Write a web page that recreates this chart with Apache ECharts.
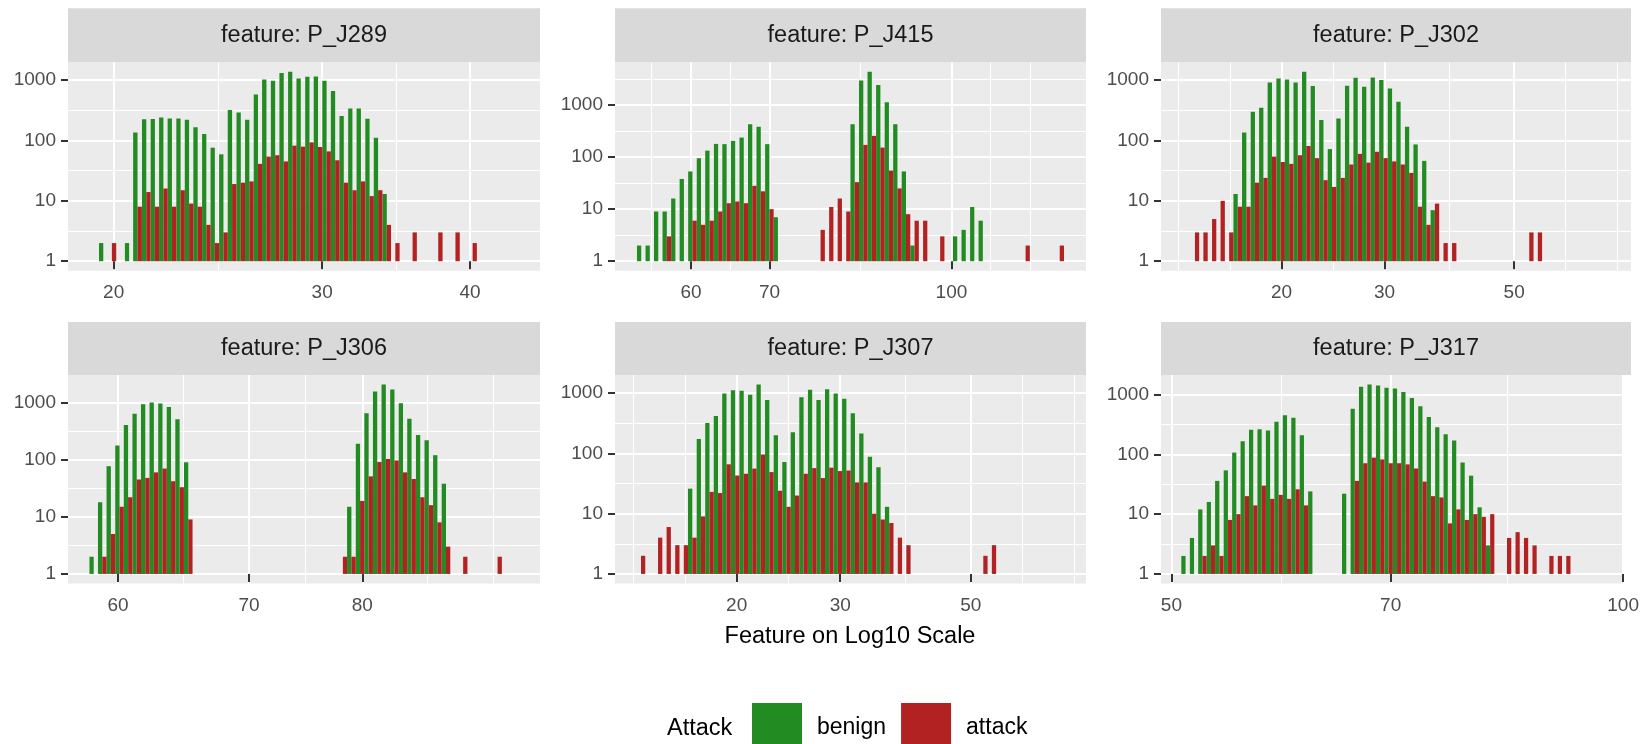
<!DOCTYPE html>
<html>
<head>
<meta charset="utf-8">
<script src="https://cdn.jsdelivr.net/npm/echarts@6/dist/echarts.min.js"></script>
<style>
html,body{margin:0;padding:0;background:#ffffff;}
#chart{width:1642px;height:744px;}
</style>
</head>
<body>
<div id="chart"></div>
<script>
// ---------------- DATA ----------------
const featureNames = ['P_J289', 'P_J415', 'P_J302', 'P_J306', 'P_J307', 'P_J317'];
const seriesNames = ['benign', 'attack'];

// bin centres (feature value) and counts per class
const binsP289 = [19.60,19.93,20.27,20.61,20.95,21.31,21.67,22.03,22.40,22.78,
                  23.16,23.55,23.95,24.35,24.76,25.18,25.61,26.04,26.48,26.92,
                  27.38,27.84,28.31,28.78,29.27,29.76,30.26,30.77,31.29,31.82,
                  32.35,32.90,33.45,34.02,34.59,35.17,35.77,36.37,36.98,37.60,
                  38.24,38.88,39.54,40.20];
const benignP289 = [2,0,0,2,136,224,226,241,232,232,
                    220,165,128,76,59,319,292,220,580,1027,
                    977,1307,1375,1067,1138,1150,977,658,254,340,
                    340,230,111,13,0,0,0,0,0,0,
                    0,0,0,0];
const attackP289 = [0,2,0,0,8,14,8,16,8,15,
                    9,8,4,2,3,19,20,21,41,54,
                    57,45,82,79,93,78,66,47,20,15,
                    21,12,15,4,2,0,3,0,0,3,
                    0,3,0,2];

const binsP415 = [54.42,55.34,56.27,57.22,58.19,59.17,60.17,61.19,62.22,63.28,
                  64.34,65.43,66.54,67.66,68.80,69.97,71.15,72.35,73.57,74.81,
                  76.08,77.36,78.67,80.00,81.35,82.72,84.12,85.54,86.99,88.46,
                  89.95,91.47,93.02,94.59,96.18,97.81,99.46,101.14,102.85,104.59,
                  106.35,108.15,109.98,111.84,113.73,115.65,117.60,119.59,121.61,123.66];
const benignP415 = [2,2,9,9,16,38,53,95,133,179,
                    177,204,237,426,384,177,7,0,0,0,
                    0,0,0,0,0,426,2964,4343,2411,1123,
                    426,53,2,0,0,0,0,3,4,11,
                    6,0,0,0,0,0,0,0,0,0];
const attackP415 = [0,0,0,3,0,0,6,5,6,9,
                    13,14,13,28,22,10,0,0,0,0,
                    0,4,11,16,9,33,171,255,152,55,
                    25,8,6,6,0,3,0,0,0,0,
                    0,0,0,0,0,2,0,0,0,2];

const binsP302 = [14.22,14.70,15.21,15.73,16.27,16.83,17.41,18.01,18.62,19.26,
                  19.93,20.61,21.32,22.05,22.81,23.59,24.40,25.24,26.11,27.00,
                  27.93,28.89,29.88,30.91,31.97,33.07,34.20,35.38,36.59,37.85,
                  39.15,40.50,41.89,43.33,44.81,46.35,47.95,49.59,51.30,53.06,
                  54.88];
const benignP302 = [0,0,0,0,0,13,135,300,349,916,
                    1067,1027,916,1375,797,218,72,232,807,1094,
                    777,1109,1000,729,439,169,86,46,7,0,
                    0,0,0,0,0,0,0,0,0,0,
                    0];
const attackP302 = [3,3,5,10,3,8,8,20,24,54,
                    44,41,57,81,51,22,17,24,40,60,
                    43,65,51,45,40,29,8,4,9,2,
                    2,0,0,0,0,0,0,0,0,3,
                    3];

const binsP306 = [58.30,58.89,59.49,60.10,60.71,61.33,61.95,62.58,63.22,63.86,
                  64.51,65.17,65.83,66.50,67.17,67.86,68.55,69.25,69.95,70.66,
                  71.38,72.11,72.84,73.58,74.33,75.09,75.85,76.62,77.40,78.19,
                  78.98,79.79,80.60,81.42,82.25,83.09,83.93,84.78,85.65,86.52,
                  87.40,88.29,89.19,90.09,91.01,91.93,92.87,93.82];
const benignP306 = [2,18,77,177,405,641,936,1000,961,840,
                    509,90,0,0,0,0,0,0,0,0,
                    0,0,0,0,0,0,0,0,0,0,
                    15,190,650,1564,2078,1698,975,523,270,220,
                    120,38,0,0,0,0,0,0];
const attackP306 = [0,2,5,15,22,45,48,60,70,42,
                    33,9,0,0,0,0,0,0,0,0,
                    0,0,0,0,0,0,0,0,0,2,
                    2,19,51,91,103,97,60,46,22,16,
                    8,3,0,2,0,0,0,2];

const binsP307 = [13.75,14.22,14.70,15.20,15.72,16.26,16.81,17.39,17.98,18.59,
                  19.22,19.88,20.56,21.26,21.98,22.73,23.51,24.31,25.13,25.99,
                  26.88,27.79,28.74,29.72,30.73,31.78,32.86,33.98,35.14,36.34,
                  37.58,38.86,40.18,41.55,42.96,44.43,45.94,47.51,49.13,50.80,
                  52.53,54.32];
const benignP307 = [0,0,0,0,0,0,26,173,320,419,
                    987,1122,1094,938,1395,774,200,72,224,858,
                    1136,774,1166,987,805,464,215,88,59,13,
                    0,0,0,0,0,0,0,0,0,0,
                    0,0];
const attackP307 = [2,0,4,6,3,3,4,9,23,22,
                    66,43,46,56,96,49,24,13,20,46,
                    57,39,58,51,52,33,33,10,8,7,
                    4,3,0,0,0,0,0,0,0,0,
                    2,3];

const binsP317 = [51.10,51.77,52.44,53.13,53.82,54.53,55.24,55.96,56.69,57.43,
                  58.18,58.94,59.71,60.49,61.28,62.08,62.90,63.72,64.55,65.39,
                  66.25,67.11,67.99,68.88,69.78,70.69,71.61,72.55,73.50,74.46,
                  75.43,76.41,77.41,78.42,79.45,80.49,81.54,82.60,83.68,84.78,
                  85.88,87.01,88.14,89.29,90.46,91.64];
const benignP317 = [2,4,12,16,36,54,107,166,257,264,
                    250,351,449,410,209,24,0,0,0,22,
                    581,1346,1475,1419,1295,1262,1109,879,636,421,
                    285,217,170,73,44,13,3,0,0,0,
                    0,0,0,0,0,0];
const attackP317 = [0,0,2,3,2,8,10,20,14,30,
                    18,21,18,26,14,0,0,0,0,0,
                    36,71,88,82,71,71,68,58,35,20,
                    19,7,12,8,10,9,10,0,4,5,
                    4,3,0,2,2,2];

// x-axis tick labels (breaks) and visible ranges per panel
const breaksP289 = [20, 30, 40];
const breaksP415 = [60, 70, 100];
const breaksP302 = [20, 30, 50];
const breaksP306 = [60, 70, 80];
const breaksP307 = [20, 30, 50];
const breaksP317 = [50, 70, 100];
const xRangeP289 = [18.30, 45.83];
const xRangeP415 = [51.69, 130.2];
const xRangeP302 = [12.44, 79.22];
const xRangeP306 = [56.56, 98.63];
const xRangeP307 = [12.42, 78.53];
const xRangeP317 = [49.21, 100.11];
const yTickLabels = [1, 10, 100, 1000, 10000];

const xTitle = 'Feature on Log10 Scale';
const legendTitle = 'Attack';

// ---------------- LAYOUT / STYLE ----------------
const COLORS = {benign: '#228B22', attack: '#B22222'};
const FONT = '"Liberation Sans", Arial, Helvetica, sans-serif';
const colLeft = [68, 615, 1161];
const colWidth = [472, 471, 470];
const rowTop = [62.3, 375];
const rowHeight = 208.4;
const stripTop = [8.3, 322];

const panels = [
  {name: featureNames[0], bins: binsP289, benign: benignP289, attack: attackP289, breaks: breaksP289, range: xRangeP289},
  {name: featureNames[1], bins: binsP415, benign: benignP415, attack: attackP415, breaks: breaksP415, range: xRangeP415},
  {name: featureNames[2], bins: binsP302, benign: benignP302, attack: attackP302, breaks: breaksP302, range: xRangeP302},
  {name: featureNames[3], bins: binsP306, benign: benignP306, attack: attackP306, breaks: breaksP306, range: xRangeP306},
  {name: featureNames[4], bins: binsP307, benign: benignP307, attack: attackP307, breaks: breaksP307, range: xRangeP307},
  {name: featureNames[5], bins: binsP317, benign: benignP317, attack: attackP317, breaks: breaksP317, range: xRangeP317}
];

const lg = Math.log10;

// ggplot2-style minor breaks (midpoints + extended breaks), in transformed space
function minorBreaks(major, lo, hi) {
  const b = major.slice();
  const bd = b[1] - b[0];
  if (lo < b[0]) b.unshift(b[0] - bd);
  if (hi > b[b.length - 1]) b.push(b[b.length - 1] + bd);
  const out = [];
  for (let i = 0; i < b.length - 1; i++) { out.push(b[i], (b[i] + b[i + 1]) / 2); }
  out.push(b[b.length - 1]);
  return out.filter(v => v > lo && v < hi && !major.some(m => Math.abs(m - v) < 1e-9));
}

const grids = [], xAxes = [], yAxes = [], series = [], graphics = [];
const fmt = v => String(Math.round(Math.pow(10, v)));

panels.forEach((p, i) => {
  const col = i % 3, row = Math.floor(i / 3);
  grids.push({
    left: colLeft[col], top: rowTop[row], width: colWidth[col], height: rowHeight,
    show: true, backgroundColor: '#EBEBEB', borderWidth: 0, containLabel: false
  });

  // x axes (log10 space)
  const xlo = lg(p.range[0]), xhi = lg(p.range[1]);
  const xMajor = p.breaks.map(lg);
  const xMinor = minorBreaks(xMajor, xlo, xhi);
  xAxes.push({
    type: 'value', gridIndex: i, min: xlo, max: xhi, position: 'bottom',
    axisLine: {show: false},
    axisTick: {show: true, length: 8, customValues: xMajor, lineStyle: {color: '#333333', width: 2}},
    axisLabel: {show: true, customValues: xMajor, formatter: fmt, color: '#4D4D4D',
                fontSize: 19, fontFamily: FONT, margin: 13},
    splitLine: {show: true, lineStyle: {color: '#FFFFFF', width: 2}}
  });
  xAxes.push({
    type: 'value', gridIndex: i, min: xlo, max: xhi, position: 'top',
    axisLine: {show: false},
    axisTick: {show: false, customValues: xMinor},
    axisLabel: {show: false},
    splitLine: {show: true, lineStyle: {color: '#FFFFFF', width: 1}}
  });

  // y axes (log10 space)
  let maxCount = 1;
  p.bins.forEach((_, k) => { maxCount = Math.max(maxCount, p.benign[k] || 0, p.attack[k] || 0); });
  const L = lg(maxCount);
  const ylo = -0.05 * L, yhi = 1.05 * L;
  const yMajor = yTickLabels.map(lg).filter(v => v >= ylo && v <= yhi);
  const yMinor = minorBreaks(yMajor, ylo, yhi);
  yAxes.push({
    type: 'value', gridIndex: i, min: ylo, max: yhi, position: 'left',
    axisLine: {show: false},
    axisTick: {show: true, length: 7, customValues: yMajor, lineStyle: {color: '#333333', width: 2}},
    axisLabel: {show: true, customValues: yMajor, formatter: fmt, color: '#4D4D4D',
                fontSize: 19, fontFamily: FONT, margin: 12},
    splitLine: {show: true, lineStyle: {color: '#FFFFFF', width: 2}}
  });
  yAxes.push({
    type: 'value', gridIndex: i, min: ylo, max: yhi, position: 'right',
    axisLine: {show: false},
    axisTick: {show: false, customValues: yMinor},
    axisLabel: {show: false},
    splitLine: {show: true, lineStyle: {color: '#FFFFFF', width: 1}}
  });

  // bin edges in log space from neighbouring centres; dodge: benign left half, attack right half
  const lc = p.bins.map(lg);
  const n = lc.length;
  const half = lc.map((c, k) => (k < n - 1 ? (lc[k + 1] - c) : (c - lc[k - 1])) / 2);
  const benData = [], attData = [];
  lc.forEach((c, k) => {
    const b = p.benign[k] || 0, a = p.attack[k] || 0;
    benData.push([c - half[k], c, b > 0 ? lg(b) : '-']);
    attData.push([c, c + half[k], a > 0 ? lg(a) : '-']);
  });
  [['benign', benData], ['attack', attData]].forEach(([nm, data]) => {
    series.push({
      type: 'custom', name: nm, xAxisIndex: 2 * i, yAxisIndex: 2 * i,
      itemStyle: {color: COLORS[nm]},
      encode: {x: [0, 1], y: 2},
      data: data,
      silent: true,
      renderItem: function (params, api) {
        const y = api.value(2);
        if (!(y > 0)) return null;
        const p0 = api.coord([api.value(0), y]);
        const p1 = api.coord([api.value(1), 0]);
        return {
          type: 'rect',
          shape: {x: p0[0], y: p0[1], width: p1[0] - p0[0], height: p1[1] - p0[1]},
          style: {fill: COLORS[nm]}
        };
      }
    });
  });

  // facet strip
  graphics.push({
    type: 'rect', silent: true,
    shape: {x: colLeft[col], y: stripTop[row], width: colWidth[col], height: rowTop[row] - stripTop[row]},
    style: {fill: '#D9D9D9'}
  });
  graphics.push({
    type: 'text', silent: true,
    x: colLeft[col] + colWidth[col] / 2, y: (stripTop[row] + rowTop[row]) / 2,
    style: {text: 'feature: ' + p.name, fill: '#1A1A1A', fontSize: 23.5, fontFamily: FONT,
            align: 'center', verticalAlign: 'middle'}
  });
});

// axis title and legend title
graphics.push({
  type: 'text', silent: true, x: 850, y: 637,
  style: {text: xTitle, fill: '#000000', fontSize: 23.5, fontFamily: FONT, align: 'center', verticalAlign: 'middle'}
});
graphics.push({
  type: 'text', silent: true, x: 667, y: 729,
  style: {text: legendTitle, fill: '#000000', fontSize: 23.5, fontFamily: FONT, align: 'left', verticalAlign: 'middle'}
});

const chart = echarts.init(document.getElementById('chart'), null, {renderer: 'canvas'});
chart.setOption({
  animation: false,
  backgroundColor: '#FFFFFF',
  grid: grids,
  xAxis: xAxes,
  yAxis: yAxes,
  series: series,
  legend: {
    data: seriesNames, left: 752, top: 703, orient: 'horizontal', padding: 0,
    icon: 'rect', itemWidth: 50, itemHeight: 50, itemGap: 15, selectedMode: false,
    textStyle: {fontSize: 23, fontFamily: FONT, color: '#000000', padding: [0, 0, 0, 10]}
  },
  graphic: graphics
});
</script>
</body>
</html>
